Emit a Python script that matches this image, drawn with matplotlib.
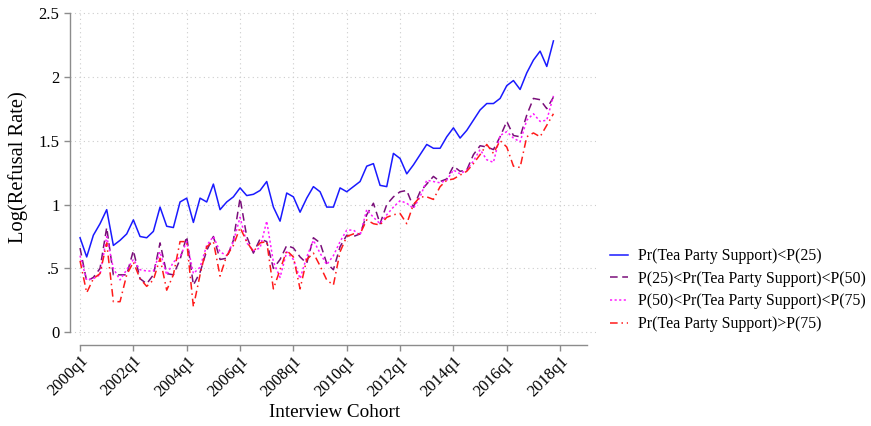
#!/usr/bin/env python3
"""
Log refusal rate by interview cohort, split by predicted Tea Party support quartile.
"""
# --- load libraries ------------------------------------------------------------------------------
import numpy as np
import matplotlib
matplotlib.use("Agg")
import matplotlib.pyplot as plt

plt.rcParams["font.family"] = ["Liberation Serif", "DejaVu Serif"]

# --- data ----------------------------------------------------------------------------------------
# quarterly cohorts 2000q1 .. 2017q4
START_YEAR = 2000
N_QUARTERS = 72

below_p25 = [
    0.74, 0.59, 0.76, 0.85, 0.96, 0.68, 0.72, 0.77, 0.88, 0.75, 0.74, 0.79,
    0.98, 0.83, 0.82, 1.02, 1.05, 0.86, 1.05, 1.02, 1.16, 0.96, 1.02, 1.06,
    1.13, 1.07, 1.08, 1.11, 1.18, 0.98, 0.87, 1.09, 1.06, 0.94, 1.05, 1.14,
    1.10, 0.98, 0.98, 1.13, 1.10, 1.14, 1.18, 1.30, 1.32, 1.15, 1.14, 1.40,
    1.36, 1.24, 1.31, 1.39, 1.47, 1.44, 1.44, 1.53, 1.60, 1.52, 1.58, 1.66,
    1.74, 1.79, 1.79, 1.83, 1.93, 1.97, 1.90, 2.03, 2.13, 2.20, 2.08, 2.28,
]
p25_p50 = [
    0.66, 0.40, 0.43, 0.50, 0.82, 0.45, 0.45, 0.45, 0.64, 0.42, 0.38, 0.45,
    0.70, 0.46, 0.45, 0.57, 0.75, 0.37, 0.47, 0.64, 0.75, 0.57, 0.58, 0.72,
    1.05, 0.75, 0.62, 0.73, 0.71, 0.50, 0.57, 0.68, 0.66, 0.59, 0.54, 0.74,
    0.70, 0.54, 0.49, 0.67, 0.76, 0.75, 0.77, 0.92, 1.01, 0.85, 1.00, 1.06,
    1.10, 1.11, 0.98, 1.10, 1.16, 1.22, 1.18, 1.20, 1.30, 1.26, 1.27, 1.39,
    1.46, 1.45, 1.43, 1.53, 1.65, 1.54, 1.53, 1.70, 1.83, 1.82, 1.75, 1.84,
]
p50_p75 = [
    0.60, 0.41, 0.42, 0.45, 0.75, 0.50, 0.41, 0.49, 0.57, 0.49, 0.48, 0.48,
    0.63, 0.45, 0.55, 0.59, 0.71, 0.46, 0.51, 0.68, 0.75, 0.63, 0.60, 0.71,
    0.90, 0.70, 0.64, 0.66, 0.87, 0.55, 0.43, 0.63, 0.57, 0.42, 0.59, 0.72,
    0.62, 0.53, 0.60, 0.71, 0.80, 0.80, 0.76, 0.96, 0.90, 0.85, 0.92, 0.98,
    1.03, 1.01, 0.97, 1.06, 1.19, 1.18, 1.17, 1.19, 1.27, 1.24, 1.27, 1.34,
    1.43, 1.35, 1.33, 1.54, 1.57, 1.52, 1.49, 1.66, 1.71, 1.65, 1.66, 1.85,
]
above_p75 = [
    0.56, 0.31, 0.42, 0.46, 0.70, 0.24, 0.24, 0.45, 0.55, 0.42, 0.36, 0.41,
    0.58, 0.33, 0.45, 0.71, 0.71, 0.20, 0.45, 0.67, 0.71, 0.44, 0.60, 0.68,
    0.82, 0.71, 0.63, 0.70, 0.71, 0.34, 0.49, 0.64, 0.59, 0.34, 0.57, 0.62,
    0.52, 0.41, 0.37, 0.63, 0.75, 0.77, 0.77, 0.88, 0.85, 0.84, 0.90, 0.92,
    0.93, 0.85, 1.00, 1.06, 1.06, 1.04, 1.14, 1.19, 1.20, 1.23, 1.26, 1.32,
    1.39, 1.47, 1.40, 1.50, 1.45, 1.30, 1.29, 1.53, 1.56, 1.53, 1.62, 1.71,
]

labels = [
    "Pr(Tea Party Support)<P(25)",
    "P(25)<Pr(Tea Party Support)<P(50)",
    "P(50)<Pr(Tea Party Support)<P(75)",
    "Pr(Tea Party Support)>P(75)",
]
y_ticks = [0, 0.5, 1, 1.5, 2, 2.5]
y_ticklabels = ["0", ".5", "1", "1.5", "2", "2.5"]
x_ticks = list(range(0, 73, 8))
x_ticklabels = [f"{START_YEAR + q // 4}q1" for q in x_ticks]

# --- styles --------------------------------------------------------------------------------------
STYLES = [
    dict(color="#1a1aff", dashes=()),
    dict(color="#7a0f7a", dashes=(5, 3)),
    dict(color="#ff1aff", dashes=(1.4, 1.6)),
    dict(color="#ff1a1a", dashes=(5, 2.5, 1, 2.5)),
]
GRID = dict(color="#cccccc", linestyle=(0, (1, 3)), linewidth=0.8)
AXIS_GREY = "#8c8c8c"


def main():
    fig = plt.figure(figsize=(8.71, 4.26), dpi=100)
    ax = fig.add_axes([0.0804, 0.191, 0.604, 0.785])

    q = np.arange(N_QUARTERS)
    for series, lab, st in zip([below_p25, p25_p50, p50_p75, above_p75], labels, STYLES):
        line, = ax.plot(q, series, color=st["color"], linewidth=1.1, label=lab)
        if st["dashes"]:
            line.set_dashes(st["dashes"])

    ax.set_xlim(-1.5, 77.4)
    ax.set_ylim(-0.096, 2.52)

    # grid
    for yv in y_ticks:
        ax.axhline(yv, zorder=0, **GRID)
    for xv in x_ticks:
        ax.axvline(xv, ymin=0.03, zorder=0, **GRID)

    # detached Stata-like axes
    for side in ["top", "right"]:
        ax.spines[side].set_visible(False)
    ax.spines["left"].set_bounds(0, 2.5)
    ax.spines["bottom"].set_bounds(0, 76)
    for side in ["left", "bottom"]:
        ax.spines[side].set_color(AXIS_GREY)
        ax.spines[side].set_linewidth(1.0)

    ax.set_yticks(y_ticks)
    ax.set_yticklabels(y_ticklabels)
    ax.set_xticks(x_ticks)
    ax.set_xticklabels(x_ticklabels, rotation=45, ha="right", va="top",
                       rotation_mode="anchor")
    ax.tick_params(axis="both", colors=AXIS_GREY, labelcolor="black",
                   length=4, width=1.0, labelsize=12)
    ax.tick_params(axis="x", pad=2)

    fig.text(0.021, 0.608, "Log(Refusal Rate)", rotation=90, ha="center",
             va="center", fontsize=14.8)
    fig.text(0.384, 0.031, "Interview Cohort", ha="center", va="center",
             fontsize=13.8)

    fig.legend(loc="center left", bbox_to_anchor=(0.684, 0.319), frameon=False,
               fontsize=11.4, handlelength=1.15, handletextpad=0.63,
               labelspacing=0.42)

    fig.savefig("out.png", dpi=100, facecolor="white")
    plt.close(fig)


if __name__ == "__main__":
    main()
